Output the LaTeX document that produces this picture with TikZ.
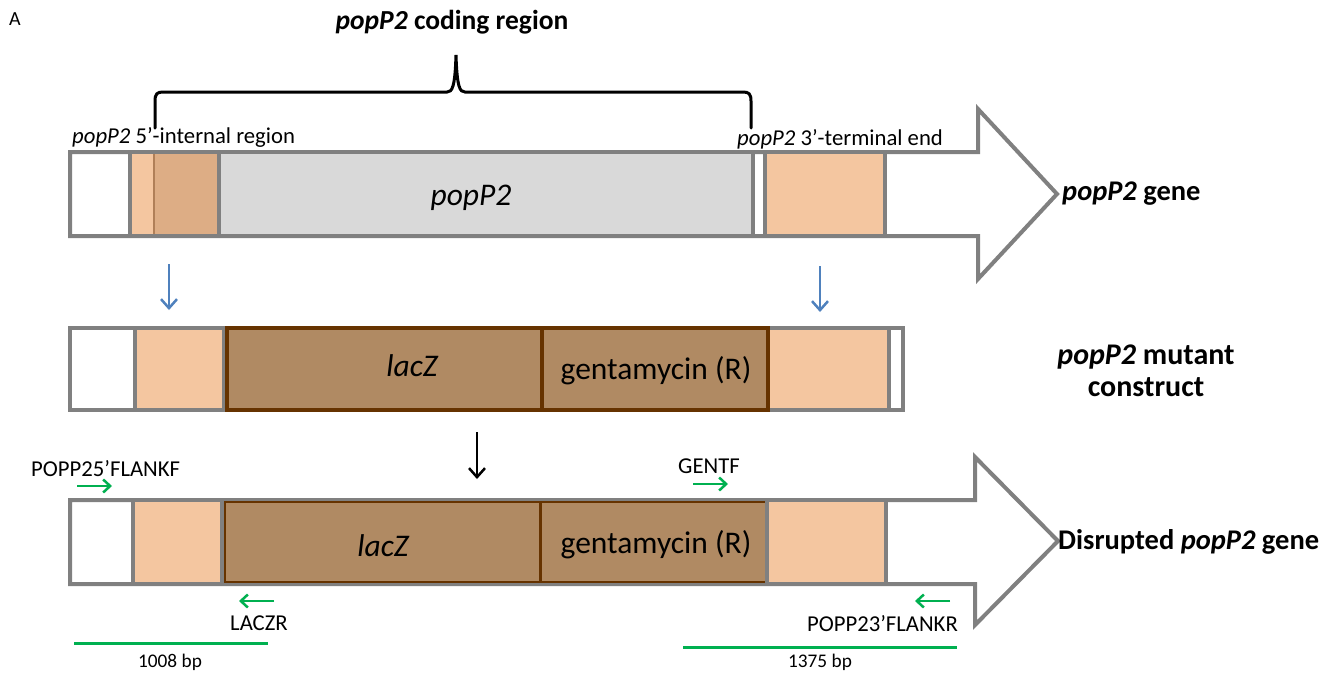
\documentclass[tikz,border=0pt]{standalone}
\usepackage{fontspec}
\setmainfont{Carlito}
\usetikzlibrary{arrows.meta}
\definecolor{gr}{HTML}{808080}
\definecolor{peach}{HTML}{F4C6A0}
\definecolor{tanA}{HTML}{DDAD85}
\definecolor{tanline}{HTML}{B07F58}
\definecolor{lgray}{HTML}{D9D9D9}
\definecolor{brownA}{HTML}{B08A63}
\definecolor{dbrown}{HTML}{663300}
\definecolor{blueA}{HTML}{4F81BD}
\definecolor{greenA}{HTML}{00B050}
\tikzset{
  seg/.style={rectangle, draw=gr, line width=4pt, anchor=north west, inner sep=0pt, outer sep=0pt},
  segb/.style={rectangle, draw=dbrown, line width=4pt, anchor=north west, inner sep=0pt, outer sep=0pt, fill=brownA},
  geneshape/.style={draw=gr, line width=4pt, fill=white, line join=miter},
  lab/.style={font=\fontsize{22.7}{27}\selectfont, inner sep=0pt},
  big/.style={font=\fontsize{31.5}{36}\selectfont, inner sep=0pt},
  bigit/.style={font=\fontsize{31.5}{36}\selectfont\itshape, inner sep=0pt},
  side/.style={font=\fontsize{28.5}{33}\selectfont\bfseries, inner sep=0pt},
  small/.style={font=\fontsize{19.3}{23}\selectfont, inner sep=0pt},
  blarrow/.style={blueA, line width=2.5pt, -{Straight Barb[length=9pt,width=16pt,line width=2.5pt]}},
  bkarrow/.style={black, line width=2.5pt, -{Straight Barb[length=9pt,width=16pt,line width=2.5pt]}},
  primer/.style={greenA, line width=2.5pt, -{Straight Barb[length=7pt,width=13pt,line width=2.5pt]}},
  prod/.style={greenA, line width=3pt},
}
\begin{document}
\begin{tikzpicture}[x=1pt,y=-1pt]
\useasboundingbox (0,0) rectangle (1331,673);
\fill[white] (0,0) rectangle (1331,673);

% panel letter and title
\node[font=\fontsize{20}{24}\selectfont, inner sep=0pt] (A) at (15,19) {A};
\node[font=\fontsize{27.5}{32}\selectfont\bfseries, inner sep=0pt] (title) at (452,22) {\textit{popP2} coding region};

% brace
\coordinate (brL) at (155,128);
\coordinate (brR) at (751,128);
\coordinate (brM) at (456,55);
\draw[black, line width=3pt, line cap=round]
  (brL) -- (155,101) .. controls (155,94) and (157,92) .. (163,92) -- (447,92)
  .. controls (452,92) and (455,88) .. (brM)
  .. controls (457,88) and (460,92) .. (465,92) -- (743,92)
  .. controls (749,92) and (751,94) .. (751,101) -- (brR);

% ===== top row: popP2 gene =====
\draw[geneshape] (70,152) -- (978,152) -- (978,109) -- (1057,194) -- (978,279) -- (978,236) -- (70,236) -- cycle;
\node[seg, fill=peach, minimum width=89pt, minimum height=84pt] (g5) at (130,152) {};
\fill[tanA] (154,154) rectangle (217,234);
\draw[tanline, line width=2.5pt] (154,154) -- (154,234);
\node[seg, fill=lgray, minimum width=534pt, minimum height=84pt] (gc) at (219,152) {};
\node[bigit] (gct) at (471,198) {popP2};
\node[seg, fill=peach, minimum width=120pt, minimum height=84pt] (g3) at (765,152) {};
\node[lab, anchor=base west] (l5) at (72,143) {\textit{popP2} 5’-internal region};
\node[lab, anchor=base west] (l3) at (737,145) {\textit{popP2} 3’-terminal end};
\node[side, anchor=west] (s1) at (1062,194) {\textit{popP2} gene};

% blue arrows
\coordinate (b1s) at (169,264);
\coordinate (b1e) at (169,310);
\coordinate (b2s) at (820,266);
\coordinate (b2e) at (820,312);
\draw[blarrow] (b1s) -- (b1e);
\draw[blarrow] (b2s) -- (b2e);

% ===== middle row: mutant construct =====
\node[seg, fill=white, minimum width=833pt, minimum height=82pt] (m) at (70,328) {};
\node[seg, fill=peach, minimum width=89pt, minimum height=82pt] (m5) at (135,328) {};
\node[seg, fill=peach, minimum width=121pt, minimum height=82pt] (m3) at (768,328) {};
\node[segb, minimum width=315pt, minimum height=82pt] (mlac) at (227,328) {};
\node[segb, minimum width=226pt, minimum height=82pt] (mgen) at (542,328) {};
\node[bigit] (mlact) at (412,366) {lacZ};
\node[big] (mgent) at (656,371) {gentamycin (R)};
\node[side, font=\fontsize{30}{32}\selectfont\bfseries, align=center] (s2) at (1146,371) {\textit{popP2} mutant\\construct};

% black arrow
\coordinate (k1s) at (477,432);
\coordinate (k1e) at (477,479);
\draw[bkarrow] (k1s) -- (k1e);

% ===== bottom row: disrupted gene =====
\draw[geneshape] (70,500) -- (975,500) -- (975,457) -- (1058,541) -- (975,625) -- (975,584) -- (70,584) -- cycle;
\node[seg, fill=peach, minimum width=89pt, minimum height=84pt] (d5) at (133,500) {};
\node[anchor=north west, fill=brownA, draw=dbrown, line width=1.2pt, inner sep=0pt, outer sep=0pt, minimum width=315pt, minimum height=80pt] (dlac) at (225,502) {};
\node[anchor=north west, fill=brownA, draw=dbrown, line width=1.2pt, inner sep=0pt, outer sep=0pt, minimum width=226pt, minimum height=80pt] (dgen) at (540,502) {};
\draw[dbrown, line width=3pt] (dlac.north east) -- (dlac.south east);
\draw[dbrown, line width=3pt] (dgen.north east) -- (dgen.south east);
\node[seg, fill=peach, minimum width=119pt, minimum height=84pt] (d3) at (767,500) {};
\node[bigit] (dlact) at (383,546) {lacZ};
\node[big] (dgent) at (656,545) {gentamycin (R)};
\node[side, anchor=west] (s3) at (1058,542) {Disrupted \textit{popP2} gene};

% primers
\node[lab, anchor=west] (pf1) at (31,469) {POPP25’FLANKF};
\coordinate (pf1s) at (77,486);
\coordinate (pf1e) at (112,486);
\draw[primer] (pf1s) -- (pf1e);
\node[lab, anchor=west] (pg) at (678,466) {GENTF};
\coordinate (pgs) at (693,484);
\coordinate (pge) at (728,484);
\draw[primer] (pgs) -- (pge);
\node[lab] (pl) at (259,623) {LACZR};
\coordinate (pls) at (274,601);
\coordinate (ple) at (239,601);
\draw[primer] (pls) -- (ple);
\node[lab, anchor=east] (pr2) at (958,624) {POPP23’FLANKR};
\coordinate (pr2s) at (950,601);
\coordinate (pr2e) at (915,601);
\draw[primer] (pr2s) -- (pr2e);

% products
\coordinate (p1a) at (74,643);
\coordinate (p1b) at (268,643);
\draw[prod] (p1a) -- (p1b);
\node[small] (p1t) at (170,662) {1008 bp};
\coordinate (p2a) at (683,647);
\coordinate (p2b) at (957,647);
\draw[prod] (p2a) -- (p2b);
\node[small] (p2t) at (820,662) {1375 bp};
\end{tikzpicture}
\end{document}
